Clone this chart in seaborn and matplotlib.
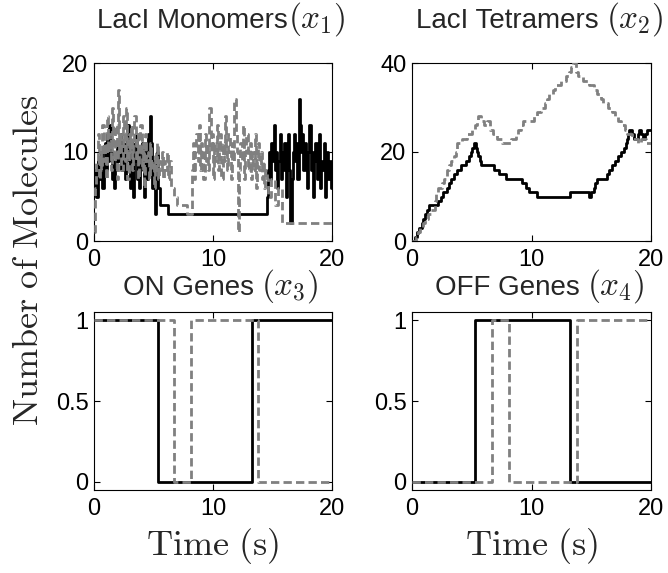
import matplotlib
matplotlib.use("Agg")
import matplotlib.pyplot as plt
import seaborn as sns
import pandas as pd

# ---------------- data ----------------
# LacI monomers (x1)
mono_black_t = [0.0, 0.1, 0.2, 0.35, 0.45, 0.55, 0.65, 0.8, 0.9, 1.0, 1.1, 1.2, 1.3, 1.4, 1.5, 1.6, 1.7, 1.8, 1.9,
                2.0, 2.1, 2.2, 2.3, 2.4, 2.5, 2.6, 2.7, 2.8, 2.9, 3.0, 3.1, 3.2, 3.3, 3.4, 3.5, 3.6, 3.7, 3.8, 3.9,
                4.0, 4.1, 4.2, 4.3, 4.4, 4.5, 4.6, 4.7, 4.8, 4.9, 5.0, 5.1, 5.2, 5.3, 5.4, 5.55, 6.2,
                14.5, 14.6, 14.7, 14.8, 14.9, 15.0, 15.1, 15.2, 15.3, 15.4, 15.5, 15.6, 15.7, 15.8, 15.9,
                16.0, 16.1, 16.2, 16.3, 16.4, 16.5, 16.6, 16.7, 16.8, 16.9, 17.0, 17.1, 17.2, 17.3, 17.4,
                17.5, 17.6, 17.7, 17.8, 17.9, 18.0, 18.1, 18.2, 18.3, 18.4, 18.5, 18.6, 18.7, 18.8, 18.9,
                19.0, 19.1, 19.2, 19.3, 19.4, 19.5, 19.6, 19.7, 19.8, 19.9, 20.0]
mono_black_v = [6, 8, 5, 9, 7, 10, 6, 9, 11, 8, 12, 9, 13, 10, 7, 9, 6, 8, 11,
                9, 10, 12, 8, 11, 9, 7, 10, 13, 9, 6, 8, 11, 5, 9, 12, 7, 10, 6, 9,
                11, 8, 5, 10, 7, 12, 9, 14, 11, 6, 9, 3, 8, 10, 6, 4, 3,
                5, 8, 10, 7, 11, 9, 13, 8, 10, 6, 9, 12, 7, 10, 8,
                11, 5, 9, 12, 8, 2, 7, 10, 12, 9, 11, 7, 16, 13, 10,
                12, 8, 11, 9, 6, 10, 13, 8, 10, 5, 9, 11, 7, 10, 12,
                6, 9, 8, 11, 5, 8, 10, 7, 9, 6, 6]

mono_grey_t = [0.0, 0.1, 0.2, 0.3, 0.4, 0.5, 0.6, 0.7, 0.8, 0.9, 1.0, 1.1, 1.2, 1.3, 1.4, 1.5, 1.6, 1.7, 1.8, 1.9,
               2.0, 2.1, 2.2, 2.3, 2.4, 2.5, 2.6, 2.7, 2.8, 2.9, 3.0, 3.1, 3.2, 3.3, 3.4, 3.5, 3.6, 3.7, 3.8, 3.9,
               4.0, 4.1, 4.2, 4.3, 4.4, 4.5, 4.6, 4.7, 4.8, 4.9, 5.0, 5.1, 5.2, 5.3, 5.4, 5.5, 5.6, 5.7, 5.8, 5.9,
               6.0, 6.1, 6.2, 6.3, 6.45, 6.7, 7.0, 7.8,
               8.2, 8.3, 8.4, 8.5, 8.6, 8.7, 8.8, 8.9, 9.0, 9.1, 9.2, 9.3, 9.4, 9.5, 9.6, 9.7, 9.8, 9.9,
               10.0, 10.1, 10.2, 10.3, 10.4, 10.5, 10.6, 10.7, 10.8, 10.9, 11.0, 11.1, 11.2, 11.3, 11.4,
               11.5, 11.6, 11.7, 11.8, 11.9, 12.0, 12.1, 12.2, 12.3, 12.4, 12.5, 12.6, 12.7, 12.8, 12.9,
               13.0, 13.1, 13.2, 13.3, 13.4, 13.5, 13.6, 13.7, 13.8, 13.9, 14.0, 14.1, 14.2, 14.3, 14.4,
               14.5, 14.6, 14.9, 15.2, 15.5, 15.8, 20.0]
mono_grey_v = [1, 6, 9, 12, 7, 10, 8, 13, 9, 11, 7, 14, 10, 12, 8, 15, 11, 9, 13, 7,
               17, 10, 12, 8, 14, 11, 9, 15, 7, 12, 10, 13, 8, 11, 14, 9, 12, 7, 10, 13,
               8, 11, 6, 12, 9, 10, 7, 11, 8, 9, 6, 10, 8, 11, 7, 9, 8, 10, 7, 9,
               8, 10, 7, 9, 6, 5, 4, 3,
               8, 11, 7, 10, 12, 9, 13, 8, 11, 10, 7, 12, 9, 11, 8, 15, 10, 12,
               7, 11, 9, 13, 8, 10, 12, 7, 11, 9, 14, 10, 8, 12, 10,
               7, 11, 9, 16, 12, 10, 1, 8, 11, 9, 13, 7, 10, 12, 8,
               9, 11, 7, 10, 8, 12, 6, 9, 11, 8, 10, 7, 9, 6, 8,
               7, 5, 7, 4, 6, 2, 2]

# LacI tetramers (x2)
tetra_black_t = [0.0, 0.25, 0.45, 0.6, 0.8, 0.95, 1.1, 1.25, 1.4, 2.2, 2.4, 2.6, 2.9, 3.1, 3.3, 3.5, 3.8, 4.1,
                 4.5, 4.8, 4.95, 5.05, 5.15, 5.35, 5.45, 5.55, 5.65, 5.75, 6.9, 7.3, 7.9, 9.2, 9.5, 9.8,
                 10.5, 13.2, 14.8, 15.0, 15.2, 15.3, 15.5, 16.3, 16.5, 16.7, 17.0, 17.2, 17.5, 17.7, 17.9,
                 18.0, 18.1, 18.2, 18.4, 18.6, 18.9, 19.0, 19.2, 19.35, 19.5, 19.7, 20.0]
tetra_black_v = [0, 1, 2, 3, 4, 5, 6, 7, 8, 9, 10, 11, 12, 13, 14, 15, 16, 17,
                 18, 19, 20, 21, 22, 21, 20, 19, 18, 17, 16, 15, 14, 13, 12, 11,
                 10, 11, 10, 11, 12, 13, 14, 15, 16, 17, 18, 19, 20, 21, 22,
                 23, 24, 25, 24, 23, 24, 25, 24, 23, 24, 25, 25]

tetra_grey_t = [0.0, 0.3, 0.5, 0.7, 0.9, 1.1, 1.3, 1.6, 1.9, 2.05, 2.2, 2.5, 2.7, 2.9, 3.1, 3.3, 3.5, 3.65, 3.8,
                4.2, 4.6, 5.0, 5.3, 5.45, 5.55, 5.75, 6.0, 6.3, 6.5, 6.8, 7.1, 7.5, 8.3, 8.7, 8.9, 9.1, 9.3,
                10.2, 10.5, 10.8, 11.1, 11.3, 11.5, 11.8, 12.0, 12.5, 12.9, 13.1, 13.3, 13.5, 13.7, 13.9,
                14.3, 14.8, 15.2, 15.5, 15.8, 16.0, 16.4, 16.7, 17.0, 17.2, 17.5, 17.8, 18.0, 18.4, 18.9,
                19.2, 19.6, 20.0]
tetra_grey_v = [0, 1, 2, 3, 4, 5, 6, 7, 9, 11, 12, 13, 14, 16, 17, 18, 19, 20, 22,
                23, 24, 25, 26, 27, 28, 27, 26, 27, 25, 24, 23, 22, 23, 24, 25, 26, 27,
                28, 29, 30, 31, 32, 33, 34, 35, 36, 37, 38, 39, 40, 38, 37,
                36, 35, 34, 33, 32, 31, 30, 29, 28, 27, 26, 25, 24, 23, 22,
                23, 22, 22]

# ON genes (x3) and OFF genes (x4)
on_black_t = [0.0, 5.35, 13.3, 20.0]
on_black_v = [1, 0, 1, 1]
on_grey_t = [0.0, 6.7, 8.15, 13.8, 20.0]
on_grey_v = [1, 0, 1, 0, 0]
off_black_t = [0.0, 5.3, 13.25, 20.0]
off_black_v = [0, 1, 0, 0]
off_grey_t = [0.0, 6.72, 8.12, 13.78, 20.0]
off_grey_v = [0, 1, 0, 1, 1]

title_words = ["LacI Monomers", "LacI Tetramers", "ON Genes", "OFF Genes"]
title_math = ["$(x_1)$", "$(x_2)$", "$(x_3)$", "$(x_4)$"]
yticks = [[0, 10, 20], [0, 20, 40], [0, 0.5, 1], [0, 0.5, 1]]
yticklabels = [["0", "10", "20"], ["0", "20", "40"], ["0", "0.5", "1"], ["0", "0.5", "1"]]
xticks = [0, 10, 20]

# ---------------- style ----------------
sns.set_style("white")
plt.rcParams["font.family"] = ["Liberation Sans", "DejaVu Sans"]
plt.rcParams["mathtext.fontset"] = "cm"

BLACK = "#000000"
GREY = "#808080"
LW = 2.0
DASH = (0, (3.0, 1.5))

fig = plt.figure(figsize=(6.68, 5.73), dpi=100)
W, H = 668.0, 573.0
rects = [(94, 63, 332, 241), (412, 63, 651, 241), (94, 312, 332, 490), (412, 312, 651, 490)]
axes = []
for (x0, y0, x1, y1) in rects:
    axes.append(fig.add_axes([x0 / W, 1 - y1 / H, (x1 - x0) / W, (y1 - y0) / H]))

series = [
    ((mono_black_t, mono_black_v), (mono_grey_t, mono_grey_v)),
    ((tetra_black_t, tetra_black_v), (tetra_grey_t, tetra_grey_v)),
    ((on_black_t, on_black_v), (on_grey_t, on_grey_v)),
    ((off_black_t, off_black_v), (off_grey_t, off_grey_v)),
]
ylims = [(0, 20), (0, 40), (-0.05, 1.05), (-0.05, 1.05)]

for i, ax in enumerate(axes):
    (bt, bv), (gt, gv) = series[i]
    dfb = pd.DataFrame({"t": bt, "v": bv})
    dfg = pd.DataFrame({"t": gt, "v": gv})
    sns.lineplot(data=dfb, x="t", y="v", ax=ax, color=BLACK, linewidth=LW,
                 drawstyle="steps-post", estimator=None, zorder=2)
    sns.lineplot(data=dfg, x="t", y="v", ax=ax, color=GREY, linewidth=LW,
                 drawstyle="steps-post", estimator=None, linestyle=DASH, zorder=3)
    ax.set_xlim(0, 20)
    ax.set_ylim(*ylims[i])
    ax.set_xticks(xticks)
    ax.set_xticklabels(["0", "10", "20"])
    ax.set_yticks(yticks[i])
    ax.set_yticklabels(yticklabels[i])
    ax.set_xlabel("")
    ax.set_ylabel("")
    ax.tick_params(direction="in", bottom=True, left=True, top=True, right=True,
                   length=4, width=0.8, labelsize=17, colors="black", pad=4)
    ax.tick_params(axis="x", pad=6)
    for s in ax.spines.values():
        s.set_visible(True)
        s.set_color("black")
        s.set_linewidth(0.8)

for ax in axes[2:]:
    ax.set_xlabel(r"$\mathrm{Time\ (s)}$", fontsize=26, labelpad=4)

fig.text(29 / W, 1 - 260 / H, r"$\mathrm{Number\ of\ Molecules}$", rotation=90,
         fontsize=26, ha="center", va="center")

# titles: sans words + larger Computer Modern math part, placed on a common baseline
fig.canvas.draw()
renderer = fig.canvas.get_renderer()
baselines = [28, 28, 295, 295]
gaps = [0, 7, 7, 7]
for i, (x0, y0, x1, y1) in enumerate(rects):
    t1 = fig.text(0, 0, title_words[i], fontsize=20, ha="left", va="baseline")
    t2 = fig.text(0, 0, title_math[i], fontsize=24, ha="left", va="baseline")
    w1 = t1.get_window_extent(renderer).width
    w2 = t2.get_window_extent(renderer).width
    total = w1 + gaps[i] + w2
    cx = (x0 + x1) / 2 + 8
    start = cx - total / 2
    t1.set_position((start / W, 1 - baselines[i] / H))
    t2.set_position(((start + w1 + gaps[i]) / W, 1 - baselines[i] / H))

fig.savefig("out.png", dpi=100)
